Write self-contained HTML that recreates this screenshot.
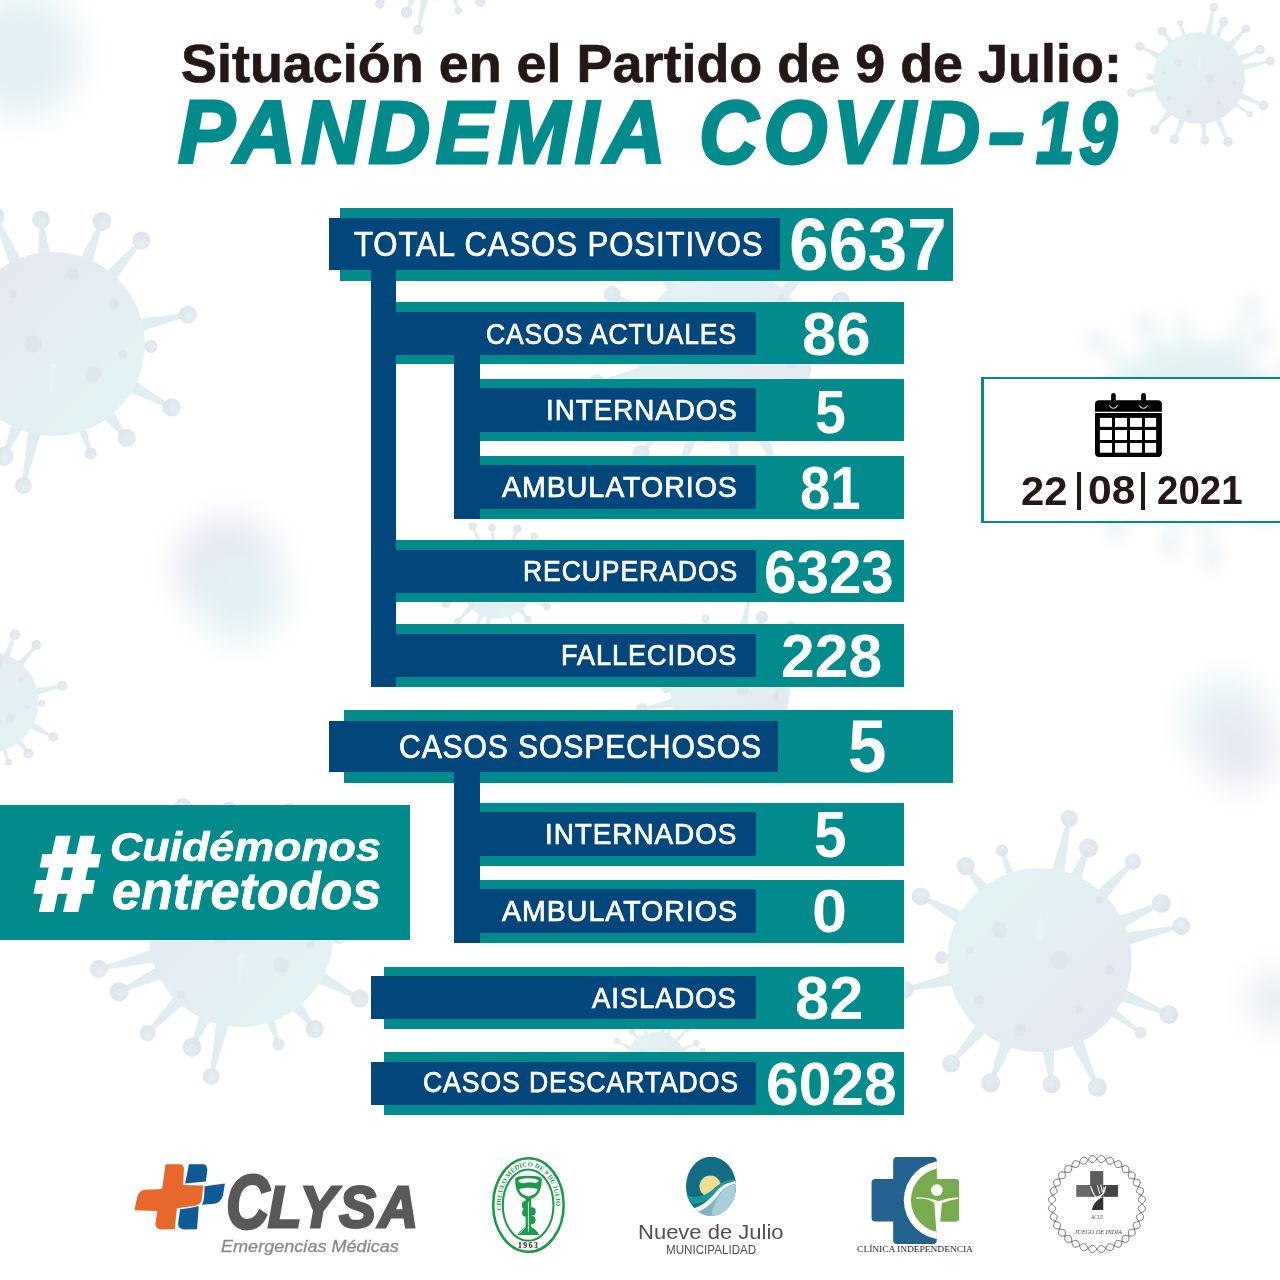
<!DOCTYPE html>
<html><head><meta charset="utf-8">
<style>
*{margin:0;padding:0;box-sizing:border-box}
html,body{width:1280px;height:1280px;overflow:hidden;background:#fff}
body{position:relative;font-family:"Liberation Sans",sans-serif}
.a{position:absolute}
.t{position:absolute;background:#028b8d}
.n{position:absolute;background:#01477b}
.lb{position:absolute;color:#fff;font-size:28px;white-space:nowrap;line-height:1;-webkit-text-stroke:0.4px #fff}
.num{position:absolute;color:#fff;font-weight:bold;white-space:nowrap;line-height:1;text-align:center}
#bg{position:absolute;left:0;top:0}
.tx{position:absolute;white-space:nowrap;line-height:1;transform-origin:0 0;font-family:"Liberation Sans",sans-serif}
</style></head><body>
<svg id="bg" width="1280" height="1280" viewBox="0 0 1280 1280">
<defs>
<linearGradient id="vb" x1="0" y1="0" x2="1" y2="1">
<stop offset="0.15" stop-color="#e2f2f3"/><stop offset="0.9" stop-color="#e5e8ef"/>
</linearGradient>
<radialGradient id="vball" cx="0.45" cy="0.4" r="0.6">
<stop offset="0" stop-color="#e3eff2"/><stop offset="1" stop-color="#dfe4eb"/>
</radialGradient>
<filter id="bl" x="-1" y="-1" width="3" height="3"><feGaussianBlur stdDeviation="16"/></filter>
<filter id="bl2" x="-1" y="-1" width="3" height="3"><feGaussianBlur stdDeviation="9"/></filter>
<g id="v">
<path fill="#e0eef1" d="M23.4 -74.8 L31.3 -141.1 L28.1 -141.7 L8.7 -77.9Z M38.1 -68.5 L50.5 -111.7 L47.5 -112.9 L24.3 -74.5Z M59.2 -51.3 L94.8 -97.2 L92.4 -99.4 L48.4 -61.7Z M73.9 -26.1 L122.6 -55.3 L121.2 -58.3 L67.5 -39.7Z M77.6 -10.9 L142.4 -32.4 L141.6 -35.6 L74.1 -25.5Z M68.9 37.3 L128.7 56.1 L129.9 53.1 L74.8 23.4Z M60.5 49.5 L100.1 73.7 L101.9 71.1 L66.3 41.4Z M25.5 74.1 L56.5 128.0 L59.5 126.6 L39.2 67.9Z M0.0 78.4 L10.4 124.5 L13.6 124.1 L15.0 76.9Z M-35.8 69.7 L-50.4 122.2 L-47.4 123.4 L-21.9 75.2Z M-56.3 54.5 L-89.6 102.6 L-87.2 104.6 L-44.9 64.2Z M-77.8 9.3 L-135.3 27.8 L-134.7 31.0 L-74.6 23.9Z M-77.9 -6.9 L-97.9 -4.0 L-97.9 -0.8 L-78.1 3.1Z M-65.2 -43.4 L-117.9 -65.0 L-119.5 -62.2 L-72.3 -30.2Z M-42.2 -66.0 L-72.3 -94.9 L-74.9 -92.9 L-54.0 -56.8Z M-20.6 -75.4 L-36.1 -110.1 L-39.1 -109.1 L-30.0 -72.2Z"/>
<g fill="url(#vball)"><circle cx="29.7" cy="-141.4" r="8.5"/><circle cx="49" cy="-112.3" r="9.5"/><circle cx="93.6" cy="-98.3" r="8"/><circle cx="121.9" cy="-56.8" r="9.5"/><circle cx="142" cy="-34" r="9"/><circle cx="129.3" cy="54.6" r="9.5"/><circle cx="101" cy="72.4" r="6"/><circle cx="58" cy="127.3" r="9.5"/><circle cx="12" cy="124.3" r="9"/><circle cx="-48.9" cy="122.8" r="9.5"/><circle cx="-88.4" cy="103.6" r="9"/><circle cx="-135" cy="29.4" r="9"/><circle cx="-97.9" cy="-2.4" r="6.5"/><circle cx="-118.7" cy="-63.6" r="9"/><circle cx="-73.6" cy="-93.9" r="9"/><circle cx="-37.6" cy="-109.6" r="6"/></g>
<circle r="92" fill="url(#vb)"/>
<g fill="#dce5ec" opacity="0.7">
<circle cx="-40" cy="-30" r="8"/><circle cx="20" cy="0" r="9"/><circle cx="60" cy="-60" r="4"/><circle cx="-60" cy="40" r="5"/><circle cx="40" cy="50" r="4"/><circle cx="-20" cy="70" r="6"/><circle cx="70" cy="10" r="5"/><circle cx="-70" cy="-10" r="4"/>
</g>
<path d="M2 -55 L4 -20 L-4 -20 Z" fill="#e6f3f5" opacity="0.8"/>
</g>
</defs>
<g filter="url(#bl)">
<circle cx="20" cy="55" r="62" fill="#e3eff3"/>
<circle cx="228" cy="570" r="52" fill="#e3e5ef"/>
<circle cx="240" cy="595" r="46" fill="#e2f0f3"/>
<circle cx="1226" cy="722" r="44" fill="#e5f2f4"/>
<circle cx="1240" cy="748" r="38" fill="#e6e8f1"/>
<circle cx="1275" cy="1000" r="28" fill="#e6ebf0"/>
</g>
<g filter="url(#bl2)"><use href="#v" transform="translate(1190,428) scale(0.95) rotate(15)"/></g>
<use href="#v" transform="translate(436,-55) scale(0.6) rotate(180)"/>
<use href="#v" transform="translate(1199,78) scale(0.5)"/>
<use href="#v" transform="translate(53,344) rotate(180)"/>
<use href="#v" transform="translate(-12,702) scale(0.55) rotate(180)"/>
<use href="#v" transform="translate(725,355) scale(0.95)"/>
<use href="#v" transform="translate(497,580) scale(0.42) rotate(180)"/>
<use href="#v" transform="translate(730,690) scale(0.65)"/>
<use href="#v" transform="translate(656,1062) scale(0.33)"/>
<use href="#v" transform="translate(241,935) rotate(180)"/>
<use href="#v" transform="translate(1039.5,960)"/>
</svg>

<!-- BARS -->
<div class="t" style="left:340px;top:208px;width:613px;height:73px"></div>
<div class="n" style="left:329px;top:218px;width:451px;height:52px"></div>
<div class="n" style="left:371px;top:270px;width:25px;height:417px"></div>

<div class="t" style="left:396px;top:302px;width:508px;height:62px"></div>
<div class="n" style="left:396px;top:312px;width:360px;height:43px"></div>
<div class="n" style="left:454px;top:355px;width:26px;height:164px"></div>

<div class="t" style="left:480px;top:379px;width:424px;height:62px"></div>
<div class="n" style="left:480px;top:388px;width:276px;height:44px"></div>

<div class="t" style="left:480px;top:456px;width:424px;height:63px"></div>
<div class="n" style="left:480px;top:465px;width:276px;height:44px"></div>

<div class="t" style="left:396px;top:540px;width:508px;height:62px"></div>
<div class="n" style="left:396px;top:550px;width:360px;height:43px"></div>

<div class="t" style="left:396px;top:624px;width:508px;height:63px"></div>
<div class="n" style="left:396px;top:634px;width:360px;height:43px"></div>

<div class="t" style="left:344px;top:710px;width:609px;height:73px"></div>
<div class="n" style="left:329px;top:721px;width:449px;height:51px"></div>
<div class="n" style="left:454px;top:771px;width:26px;height:172px"></div>

<div class="t" style="left:480px;top:803px;width:424px;height:63px"></div>
<div class="n" style="left:480px;top:812px;width:276px;height:44px"></div>

<div class="t" style="left:480px;top:880px;width:424px;height:63px"></div>
<div class="n" style="left:480px;top:889px;width:276px;height:44px"></div>

<div class="t" style="left:384px;top:967px;width:520px;height:62px"></div>
<div class="n" style="left:371px;top:976px;width:385px;height:43px"></div>

<div class="t" style="left:384px;top:1052px;width:520px;height:63px"></div>
<div class="n" style="left:371px;top:1062px;width:385px;height:43px"></div>

<div class="a" style="left:0;top:805px;width:410px;height:135px;background:#028b8d"></div>
<svg class="a" style="left:0;top:0" width="1280" height="1280" viewBox="0 0 1280 1280">
<g fill="#fff">
<polygon points="55.9,835.7 70.7,835.7 53.8,912 38.7,912"/>
<polygon points="80.2,835.7 95,835.7 78.4,912 63,912"/>
<polygon points="42.2,854 101,854 98.5,867.4 39.8,867.4"/>
<polygon points="36.25,880 95,880 92.5,893.75 33.4,893.75"/>
</g>
<path fill="#028b8d" d="M992 132.3 L1022 132.3 Q1024.2 132.3 1023.8 134.5 L1022.2 143 Q1021.8 145.3 1019.5 145.3 L991 145.3 Q988.8 145.3 989.2 143 L990 134.5 Q990.4 132.3 992 132.3 Z"/>
</svg>
<div class="a" style="left:981px;top:377px;width:310px;height:146px;border:2.5px solid #028b8d;border-left-width:3px;background:#fff"></div>
<svg class="a" style="left:1090px;top:388px" width="80" height="74" viewBox="0 0 1280 1184">
<path fill="#000" d="M80 260 Q80 195 150 195 L1085 195 Q1150 195 1150 260 L1150 380 L80 380 Z"/>
<path fill="#000" d="M80 400 L1150 400 L1150 1030 Q1150 1105 1075 1105 L160 1105 Q80 1105 80 1030 Z"/>
<g fill="#fff">
<rect x="158" y="478" width="194" height="144"/><rect x="400" y="478" width="192" height="144"/><rect x="640" y="478" width="192" height="144"/><rect x="880" y="478" width="178" height="144"/>
<rect x="158" y="672" width="194" height="160"/><rect x="400" y="672" width="192" height="160"/><rect x="640" y="672" width="192" height="160"/><rect x="880" y="672" width="178" height="160"/>
<rect x="158" y="880" width="194" height="155"/><rect x="400" y="880" width="192" height="155"/><rect x="640" y="880" width="192" height="155"/><rect x="880" y="880" width="178" height="155"/>
</g>
<g fill="none" stroke="#fff" stroke-width="16">
<path d="M312 275 Q320 325 375 325 Q430 325 438 275"/>
<path d="M792 275 Q800 325 855 325 Q910 325 918 275"/>
</g>
<g fill="#000">
<rect x="338" y="78" width="74" height="222" rx="37"/>
<rect x="818" y="78" width="77" height="222" rx="38"/>
</g>
</svg>
<div class="a" style="left:1077.2px;top:472px;width:3.6px;height:38px;background:#231815"></div>
<div class="a" style="left:1141px;top:472px;width:3.8px;height:38px;background:#231815"></div>
<svg class="a" style="left:130px;top:1158px" width="100" height="77" viewBox="0 0 1280 986">
<path fill="#e8682b" d="M455 80 L640 80 Q690 80 690 140 L680 345 L940 352 L915 555 Q880 610 820 615 L600 645 L572 912 L390 915 Q325 905 325 840 L350 680 L55 670 L95 490 Q120 410 200 405 L410 398 Z"/>
<path fill="#0d5a95" d="M755 80 L940 80 Q990 85 990 160 L970 302 L705 325 Z"/>
<path fill="#0d5a95" d="M955 362 L1215 325 L1190 480 Q1160 575 1080 585 L918 600 Q945 560 950 480 Z"/>
<path fill="#0d5a95" d="M880 615 L858 912 L690 915 Q615 905 615 840 L642 655 Q760 650 880 615 Z"/>
</svg>
<svg class="a" style="left:485px;top:1150px" width="90" height="110" viewBox="0 0 1047 1280">
<defs><path id="arcp" d="M186 703 A322 452 0 1 1 824 703"/></defs>
<ellipse cx="505" cy="640" rx="410" ry="545" fill="none" stroke="#1b9a4b" stroke-width="30"/>
<ellipse cx="502" cy="642" rx="295" ry="415" fill="none" stroke="#1b9a4b" stroke-width="24"/>
<text font-family="Liberation Serif" font-weight="bold" font-size="74" fill="#1b9a4b" textLength="1300" lengthAdjust="spacingAndGlyphs"><textPath href="#arcp" textLength="1300" lengthAdjust="spacingAndGlyphs">CIRCULO MEDICO DE 9 DE JULIO</textPath></text>
<text x="505" y="1140" font-family="Liberation Serif" font-weight="bold" font-size="95" fill="#222" text-anchor="middle" letter-spacing="14">1963</text>
<g fill="#1b9a4b">
<path d="M350 340 Q350 300 505 300 Q660 300 660 340 Q660 525 545 565 L465 565 Q350 525 350 340 Z"/>
<rect x="472" y="555" width="66" height="420"/>
<path d="M378 990 Q420 905 505 880 Q590 905 632 990 Z"/>
<ellipse cx="468" cy="640" rx="40" ry="48"/><ellipse cx="545" cy="715" rx="45" ry="50"/><ellipse cx="468" cy="730" rx="36" ry="45"/><ellipse cx="548" cy="815" rx="40" ry="46"/>
</g>
<path fill="#fff" d="M398 455 Q505 425 612 455 Q598 525 505 540 Q412 525 398 455 Z"/>
<ellipse cx="505" cy="360" rx="118" ry="32" fill="#fff"/>
<path d="M430 395 Q505 360 590 385 Q540 420 470 410 Z" fill="#1b9a4b"/>
<path d="M505 600 L505 950" stroke="#fff" stroke-width="9"/>
<path d="M400 975 L470 900" stroke="#fff" stroke-width="7"/>
</svg>
<svg class="a" style="left:630px;top:1150px" width="160" height="110" viewBox="0 0 1280 880">
<defs><clipPath id="ovc"><ellipse cx="648" cy="290" rx="200" ry="236"/></clipPath></defs>
<g clip-path="url(#ovc)">
<rect x="400" y="40" width="500" height="520" fill="#126c86"/>
<circle cx="642" cy="290" r="86" fill="#f2dc8e"/>
<path fill="#16999e" d="M440 355 C520 395 600 375 680 300 C740 250 800 232 860 232 L860 290 C790 290 730 310 680 360 C600 430 520 440 440 420 Z"/>
<path fill="#ffffff" d="M500 470 C600 440 650 380 700 322 C745 272 800 252 860 248 L860 268 C805 272 755 300 718 345 C665 420 610 470 545 495 Z"/>
<path fill="#a6d0dc" d="M545 495 C610 470 665 420 718 345 C755 300 805 272 860 268 L860 600 L480 600 Z"/>
<path fill="#7fb5c5" d="M545 495 C610 470 665 420 718 345 L740 320 C690 400 660 460 650 540 L520 540 Z"/>
</g>
</svg>
<svg class="a" style="left:850px;top:1150px" width="130" height="110" viewBox="0 0 1280 1083">
<defs><clipPath id="crc"><path d="M465 70 L815 70 Q855 70 855 110 L855 285 L1035 285 Q1075 285 1075 325 L1075 665 Q1075 705 1035 705 L855 705 L855 885 Q855 925 815 925 L465 925 Q425 925 425 885 L425 705 L250 705 Q210 705 210 665 L210 325 Q210 285 250 285 L425 285 L425 110 Q425 70 465 70 Z"/></clipPath></defs>
<g clip-path="url(#crc)">
<rect x="200" y="60" width="900" height="880" fill="#23628f"/>
<circle cx="917" cy="495" r="387" fill="#fff"/>
<circle cx="917" cy="495" r="317" fill="#76ab4e"/>
</g>
<circle cx="855" cy="395" r="58" fill="#fff"/>
<path fill="#fff" d="M650 480 Q760 470 830 520 L850 800 L880 800 L905 525 Q980 490 1065 480 L1060 465 Q960 470 870 505 Q780 465 655 465 Z"/>
<text x="640" y="1005" font-family="Liberation Serif" font-size="78" fill="#222" text-anchor="middle" textLength="1140" lengthAdjust="spacingAndGlyphs">CLÍNICA  INDEPENDENCIA</text>
</svg>
<svg class="a" style="left:1045px;top:1150px" width="105" height="108" viewBox="0 0 1244 1280">
<g fill="none" stroke="#3a3a3a" stroke-width="9"><path d="M1150.0,640.0 L1154.7,643.8 L1159.3,647.6 L1163.7,651.5 L1167.9,655.4 L1171.9,659.4 L1175.6,663.5 L1178.9,667.6 L1181.8,671.7 L1184.3,675.8 L1186.4,680.0 L1187.9,684.1 L1188.9,688.2 L1189.3,692.3 L1189.2,696.3 L1188.6,700.3 L1187.4,704.2 L1185.7,708.1 L1183.5,711.8 L1180.8,715.5 L1177.6,719.1 L1173.9,722.5 L1169.9,725.9 L1165.6,729.2 L1160.9,732.3 L1156.0,735.4 L1150.9,738.4 L1145.7,741.2 L1140.4,744.0 L1135.1,746.8 L1129.8,749.4 L1124.6,752.0 L1119.5,754.6 L1114.7,757.2 L1110.1,759.8 L1105.8,762.4 L1101.8,765.0 L1098.3,767.7 L1095.1,770.4 L1092.4,773.3 L1090.1,776.2 L1088.3,779.3 L1087.0,782.5 L1086.1,785.8 L1085.7,789.3 L1085.8,793.0 L1086.4,796.8 L1087.3,800.8 L1088.6,804.9 L1090.3,809.3 L1092.4,813.7 L1094.7,818.4 L1097.2,823.2 L1099.9,828.1 L1102.7,833.1 L1105.6,838.2 L1108.5,843.4 L1111.4,848.7 L1114.2,854.0 L1116.9,859.3 L1119.4,864.6 L1121.6,869.8 L1123.5,875.0 L1125.1,880.0 L1126.3,885.0 L1127.2,889.8 L1127.5,894.4 L1127.5,898.9 L1127.0,903.1 L1125.9,907.1 L1124.4,910.9 L1122.4,914.4 L1120.0,917.6 L1117.0,920.6 L1113.6,923.3 L1109.8,925.7 L1105.6,927.8 L1101.0,929.7 L1096.1,931.4 L1090.9,932.8 L1085.4,934.0 L1079.8,935.0 L1074.0,935.8 L1068.0,936.5 L1062.1,937.0 L1056.1,937.5 L1050.2,938.0 L1044.3,938.4 L1038.7,938.9 L1033.1,939.4 L1027.9,940.0 L1022.8,940.7 L1018.1,941.5 L1013.7,942.6 L1009.6,943.9 L1005.9,945.4 L1002.6,947.2 L999.6,949.3 L997.1,951.6 L994.9,954.3 L993.1,957.3 L991.7,960.6 L990.7,964.3 L990.0,968.2 L989.5,972.5 L989.4,977.1 L989.5,981.9 L989.8,987.1 L990.2,992.4 L990.8,997.9 L991.5,1003.6 L992.2,1009.4 L993.0,1015.3 L993.6,1021.3 L994.2,1027.2 L994.7,1033.2 L995.0,1039.0 L995.1,1044.7 L995.0,1050.3 L994.6,1055.7 L993.9,1060.8 L992.9,1065.6 L991.5,1070.1 L989.9,1074.3 L987.9,1078.1 L985.5,1081.5 L982.7,1084.5 L979.6,1087.1 L976.2,1089.3 L972.4,1091.0 L968.4,1092.3 L964.0,1093.1 L959.3,1093.6 L954.4,1093.7 L949.3,1093.4 L944.0,1092.8 L938.5,1091.9 L932.9,1090.7 L927.3,1089.3 L921.5,1087.7 L915.8,1086.0 L910.1,1084.1 L904.4,1082.3 L898.8,1080.4 L893.4,1078.7 L888.1,1077.0 L882.9,1075.5 L877.9,1074.1 L873.2,1073.1 L868.6,1072.3 L864.3,1071.8 L860.2,1071.7 L856.4,1072.0 L852.9,1072.7 L849.5,1073.8 L846.5,1075.3 L843.6,1077.3 L841.0,1079.7 L838.6,1082.6 L836.3,1085.9 L834.3,1089.6 L832.3,1093.6 L830.6,1098.1 L828.9,1102.8 L827.2,1107.9 L825.7,1113.1 L824.1,1118.6 L822.5,1124.2 L821.0,1130.0 L819.3,1135.7 L817.6,1141.5 L815.8,1147.1 L813.9,1152.7 L811.8,1158.1 L809.6,1163.2 L807.2,1168.1 L804.7,1172.7 L801.9,1176.8 L799.0,1180.6 L795.9,1183.9 L792.7,1186.8 L789.2,1189.2 L785.6,1191.0 L781.8,1192.4 L777.8,1193.2 L773.7,1193.4 L769.5,1193.2 L765.1,1192.5 L760.6,1191.2 L756.1,1189.5 L751.5,1187.4 L746.8,1184.9 L742.1,1182.0 L737.4,1178.9 L732.7,1175.5 L728.0,1171.9 L723.4,1168.1 L718.8,1164.2 L714.3,1160.4 L709.8,1156.5 L705.4,1152.7 L701.1,1149.1 L696.9,1145.7 L692.8,1142.5 L688.8,1139.6 L684.9,1137.0 L681.0,1134.8 L677.3,1133.1 L673.6,1131.8 L670.1,1130.9 L666.6,1130.5 L663.1,1130.6 L659.7,1131.3 L656.3,1132.4 L653.0,1134.0 L649.7,1136.0 L646.4,1138.6 L643.0,1141.5 L639.7,1144.8 L636.3,1148.5 L632.9,1152.4 L629.4,1156.7 L625.9,1161.1 L622.3,1165.6 L618.7,1170.3 L615.0,1175.0 L611.2,1179.7 L607.4,1184.3 L603.5,1188.7 L599.6,1192.9 L595.6,1196.9 L591.5,1200.6 L587.4,1203.9 L583.3,1206.8 L579.2,1209.3 L575.0,1211.4 L570.9,1212.9 L566.8,1213.9 L562.7,1214.3 L558.7,1214.2 L554.7,1213.6 L550.8,1212.4 L546.9,1210.7 L543.2,1208.5 L539.5,1205.8 L535.9,1202.6 L532.5,1198.9 L529.1,1194.9 L525.8,1190.6 L522.7,1185.9 L519.6,1181.0 L516.6,1175.9 L513.8,1170.7 L511.0,1165.4 L508.2,1160.1 L505.6,1154.8 L503.0,1149.6 L500.4,1144.5 L497.8,1139.7 L495.2,1135.1 L492.6,1130.8 L490.0,1126.8 L487.3,1123.3 L484.6,1120.1 L481.7,1117.4 L478.8,1115.1 L475.7,1113.3 L472.5,1112.0 L469.2,1111.1 L465.7,1110.7 L462.0,1110.8 L458.2,1111.4 L454.2,1112.3 L450.1,1113.6 L445.7,1115.3 L441.3,1117.4 L436.6,1119.7 L431.8,1122.2 L426.9,1124.9 L421.9,1127.7 L416.8,1130.6 L411.6,1133.5 L406.3,1136.4 L401.0,1139.2 L395.7,1141.9 L390.4,1144.4 L385.2,1146.6 L380.0,1148.5 L375.0,1150.1 L370.0,1151.3 L365.2,1152.2 L360.6,1152.5 L356.1,1152.5 L351.9,1152.0 L347.9,1150.9 L344.1,1149.4 L340.6,1147.4 L337.4,1145.0 L334.4,1142.0 L331.7,1138.6 L329.3,1134.8 L327.2,1130.6 L325.3,1126.0 L323.6,1121.1 L322.2,1115.9 L321.0,1110.4 L320.0,1104.8 L319.2,1099.0 L318.5,1093.0 L318.0,1087.1 L317.5,1081.1 L317.0,1075.2 L316.6,1069.3 L316.1,1063.7 L315.6,1058.1 L315.0,1052.9 L314.3,1047.8 L313.5,1043.1 L312.4,1038.7 L311.1,1034.6 L309.6,1030.9 L307.8,1027.6 L305.7,1024.6 L303.4,1022.1 L300.7,1019.9 L297.7,1018.1 L294.4,1016.7 L290.7,1015.7 L286.8,1015.0 L282.5,1014.5 L277.9,1014.4 L273.1,1014.5 L267.9,1014.8 L262.6,1015.2 L257.1,1015.8 L251.4,1016.5 L245.6,1017.2 L239.7,1018.0 L233.7,1018.6 L227.8,1019.2 L221.8,1019.7 L216.0,1020.0 L210.3,1020.1 L204.7,1020.0 L199.3,1019.6 L194.2,1018.9 L189.4,1017.9 L184.9,1016.5 L180.7,1014.9 L176.9,1012.9 L173.5,1010.5 L170.5,1007.7 L167.9,1004.6 L165.7,1001.2 L164.0,997.4 L162.7,993.4 L161.9,989.0 L161.4,984.3 L161.3,979.4 L161.6,974.3 L162.2,969.0 L163.1,963.5 L164.3,957.9 L165.7,952.3 L167.3,946.5 L169.0,940.8 L170.9,935.1 L172.7,929.4 L174.6,923.8 L176.3,918.4 L178.0,913.1 L179.5,907.9 L180.9,902.9 L181.9,898.2 L182.7,893.6 L183.2,889.3 L183.3,885.2 L183.0,881.4 L182.3,877.9 L181.2,874.5 L179.7,871.5 L177.7,868.6 L175.3,866.0 L172.4,863.6 L169.1,861.3 L165.4,859.3 L161.4,857.3 L156.9,855.6 L152.2,853.9 L147.1,852.2 L141.9,850.7 L136.4,849.1 L130.8,847.5 L125.0,846.0 L119.3,844.3 L113.5,842.6 L107.9,840.8 L102.3,838.9 L96.9,836.8 L91.8,834.6 L86.9,832.2 L82.3,829.7 L78.2,826.9 L74.4,824.0 L71.1,820.9 L68.2,817.7 L65.8,814.2 L64.0,810.6 L62.6,806.8 L61.8,802.8 L61.6,798.7 L61.8,794.5 L62.5,790.1 L63.8,785.6 L65.5,781.1 L67.6,776.5 L70.1,771.8 L73.0,767.1 L76.1,762.4 L79.5,757.7 L83.1,753.0 L86.9,748.4 L90.8,743.8 L94.6,739.3 L98.5,734.8 L102.3,730.4 L105.9,726.1 L109.3,721.9 L112.5,717.8 L115.4,713.8 L118.0,709.9 L120.2,706.0 L121.9,702.3 L123.2,698.6 L124.1,695.1 L124.5,691.6 L124.4,688.1 L123.7,684.7 L122.6,681.3 L121.0,678.0 L119.0,674.7 L116.4,671.4 L113.5,668.0 L110.2,664.7 L106.5,661.3 L102.6,657.9 L98.3,654.4 L93.9,650.9 L89.4,647.3 L84.7,643.7 L80.0,640.0 L75.3,636.2 L70.7,632.4 L66.3,628.5 L62.1,624.6 L58.1,620.6 L54.4,616.5 L51.1,612.4 L48.2,608.3 L45.7,604.2 L43.6,600.0 L42.1,595.9 L41.1,591.8 L40.7,587.7 L40.8,583.7 L41.4,579.7 L42.6,575.8 L44.3,571.9 L46.5,568.2 L49.2,564.5 L52.4,560.9 L56.1,557.5 L60.1,554.1 L64.4,550.8 L69.1,547.7 L74.0,544.6 L79.1,541.6 L84.3,538.8 L89.6,536.0 L94.9,533.2 L100.2,530.6 L105.4,528.0 L110.5,525.4 L115.3,522.8 L119.9,520.2 L124.2,517.6 L128.2,515.0 L131.7,512.3 L134.9,509.6 L137.6,506.7 L139.9,503.8 L141.7,500.7 L143.0,497.5 L143.9,494.2 L144.3,490.7 L144.2,487.0 L143.6,483.2 L142.7,479.2 L141.4,475.1 L139.7,470.7 L137.6,466.3 L135.3,461.6 L132.8,456.8 L130.1,451.9 L127.3,446.9 L124.4,441.8 L121.5,436.6 L118.6,431.3 L115.8,426.0 L113.1,420.7 L110.6,415.4 L108.4,410.2 L106.5,405.0 L104.9,400.0 L103.7,395.0 L102.8,390.2 L102.5,385.6 L102.5,381.1 L103.0,376.9 L104.1,372.9 L105.6,369.1 L107.6,365.6 L110.0,362.4 L113.0,359.4 L116.4,356.7 L120.2,354.3 L124.4,352.2 L129.0,350.3 L133.9,348.6 L139.1,347.2 L144.6,346.0 L150.2,345.0 L156.0,344.2 L162.0,343.5 L167.9,343.0 L173.9,342.5 L179.8,342.0 L185.7,341.6 L191.3,341.1 L196.9,340.6 L202.1,340.0 L207.2,339.3 L211.9,338.5 L216.3,337.4 L220.4,336.1 L224.1,334.6 L227.4,332.8 L230.4,330.7 L232.9,328.4 L235.1,325.7 L236.9,322.7 L238.3,319.4 L239.3,315.7 L240.0,311.8 L240.5,307.5 L240.6,302.9 L240.5,298.1 L240.2,292.9 L239.8,287.6 L239.2,282.1 L238.5,276.4 L237.8,270.6 L237.0,264.7 L236.4,258.7 L235.8,252.8 L235.3,246.8 L235.0,241.0 L234.9,235.3 L235.0,229.7 L235.4,224.3 L236.1,219.2 L237.1,214.4 L238.5,209.9 L240.1,205.7 L242.1,201.9 L244.5,198.5 L247.3,195.5 L250.4,192.9 L253.8,190.7 L257.6,189.0 L261.6,187.7 L266.0,186.9 L270.7,186.4 L275.6,186.3 L280.7,186.6 L286.0,187.2 L291.5,188.1 L297.1,189.3 L302.7,190.7 L308.5,192.3 L314.2,194.0 L319.9,195.9 L325.6,197.7 L331.2,199.6 L336.6,201.3 L341.9,203.0 L347.1,204.5 L352.1,205.9 L356.8,206.9 L361.4,207.7 L365.7,208.2 L369.8,208.3 L373.6,208.0 L377.1,207.3 L380.5,206.2 L383.5,204.7 L386.4,202.7 L389.0,200.3 L391.4,197.4 L393.7,194.1 L395.7,190.4 L397.7,186.4 L399.4,181.9 L401.1,177.2 L402.8,172.1 L404.3,166.9 L405.9,161.4 L407.5,155.8 L409.0,150.0 L410.7,144.3 L412.4,138.5 L414.2,132.9 L416.1,127.3 L418.2,121.9 L420.4,116.8 L422.8,111.9 L425.3,107.3 L428.1,103.2 L431.0,99.4 L434.1,96.1 L437.3,93.2 L440.8,90.8 L444.4,89.0 L448.2,87.6 L452.2,86.8 L456.3,86.6 L460.5,86.8 L464.9,87.5 L469.4,88.8 L473.9,90.5 L478.5,92.6 L483.2,95.1 L487.9,98.0 L492.6,101.1 L497.3,104.5 L502.0,108.1 L506.6,111.9 L511.2,115.8 L515.7,119.6 L520.2,123.5 L524.6,127.3 L528.9,130.9 L533.1,134.3 L537.2,137.5 L541.2,140.4 L545.1,143.0 L549.0,145.2 L552.7,146.9 L556.4,148.2 L559.9,149.1 L563.4,149.5 L566.9,149.4 L570.3,148.7 L573.7,147.6 L577.0,146.0 L580.3,144.0 L583.6,141.4 L587.0,138.5 L590.3,135.2 L593.7,131.5 L597.1,127.6 L600.6,123.3 L604.1,118.9 L607.7,114.4 L611.3,109.7 L615.0,105.0 L618.8,100.3 L622.6,95.7 L626.5,91.3 L630.4,87.1 L634.4,83.1 L638.5,79.4 L642.6,76.1 L646.7,73.2 L650.8,70.7 L655.0,68.6 L659.1,67.1 L663.2,66.1 L667.3,65.7 L671.3,65.8 L675.3,66.4 L679.2,67.6 L683.1,69.3 L686.8,71.5 L690.5,74.2 L694.1,77.4 L697.5,81.1 L700.9,85.1 L704.2,89.4 L707.3,94.1 L710.4,99.0 L713.4,104.1 L716.2,109.3 L719.0,114.6 L721.8,119.9 L724.4,125.2 L727.0,130.4 L729.6,135.5 L732.2,140.3 L734.8,144.9 L737.4,149.2 L740.0,153.2 L742.7,156.7 L745.4,159.9 L748.3,162.6 L751.2,164.9 L754.3,166.7 L757.5,168.0 L760.8,168.9 L764.3,169.3 L768.0,169.2 L771.8,168.6 L775.8,167.7 L779.9,166.4 L784.3,164.7 L788.7,162.6 L793.4,160.3 L798.2,157.8 L803.1,155.1 L808.1,152.3 L813.2,149.4 L818.4,146.5 L823.7,143.6 L829.0,140.8 L834.3,138.1 L839.6,135.6 L844.8,133.4 L850.0,131.5 L855.0,129.9 L860.0,128.7 L864.8,127.8 L869.4,127.5 L873.9,127.5 L878.1,128.0 L882.1,129.1 L885.9,130.6 L889.4,132.6 L892.6,135.0 L895.6,138.0 L898.3,141.4 L900.7,145.2 L902.8,149.4 L904.7,154.0 L906.4,158.9 L907.8,164.1 L909.0,169.6 L910.0,175.2 L910.8,181.0 L911.5,187.0 L912.0,192.9 L912.5,198.9 L913.0,204.8 L913.4,210.7 L913.9,216.3 L914.4,221.9 L915.0,227.1 L915.7,232.2 L916.5,236.9 L917.6,241.3 L918.9,245.4 L920.4,249.1 L922.2,252.4 L924.3,255.4 L926.6,257.9 L929.3,260.1 L932.3,261.9 L935.6,263.3 L939.3,264.3 L943.2,265.0 L947.5,265.5 L952.1,265.6 L956.9,265.5 L962.1,265.2 L967.4,264.8 L972.9,264.2 L978.6,263.5 L984.4,262.8 L990.3,262.0 L996.3,261.4 L1002.2,260.8 L1008.2,260.3 L1014.0,260.0 L1019.7,259.9 L1025.3,260.0 L1030.7,260.4 L1035.8,261.1 L1040.6,262.1 L1045.1,263.5 L1049.3,265.1 L1053.1,267.1 L1056.5,269.5 L1059.5,272.3 L1062.1,275.4 L1064.3,278.8 L1066.0,282.6 L1067.3,286.6 L1068.1,291.0 L1068.6,295.7 L1068.7,300.6 L1068.4,305.7 L1067.8,311.0 L1066.9,316.5 L1065.7,322.1 L1064.3,327.7 L1062.7,333.5 L1061.0,339.2 L1059.1,344.9 L1057.3,350.6 L1055.4,356.2 L1053.7,361.6 L1052.0,366.9 L1050.5,372.1 L1049.1,377.1 L1048.1,381.8 L1047.3,386.4 L1046.8,390.7 L1046.7,394.8 L1047.0,398.6 L1047.7,402.1 L1048.8,405.5 L1050.3,408.5 L1052.3,411.4 L1054.7,414.0 L1057.6,416.4 L1060.9,418.7 L1064.6,420.7 L1068.6,422.7 L1073.1,424.4 L1077.8,426.1 L1082.9,427.8 L1088.1,429.3 L1093.6,430.9 L1099.2,432.5 L1105.0,434.0 L1110.7,435.7 L1116.5,437.4 L1122.1,439.2 L1127.7,441.1 L1133.1,443.2 L1138.2,445.4 L1143.1,447.8 L1147.7,450.3 L1151.8,453.1 L1155.6,456.0 L1158.9,459.1 L1161.8,462.3 L1164.2,465.8 L1166.0,469.4 L1167.4,473.2 L1168.2,477.2 L1168.4,481.3 L1168.2,485.5 L1167.5,489.9 L1166.2,494.4 L1164.5,498.9 L1162.4,503.5 L1159.9,508.2 L1157.0,512.9 L1153.9,517.6 L1150.5,522.3 L1146.9,527.0 L1143.1,531.6 L1139.2,536.2 L1135.4,540.7 L1131.5,545.2 L1127.7,549.6 L1124.1,553.9 L1120.7,558.1 L1117.5,562.2 L1114.6,566.2 L1112.0,570.1 L1109.8,574.0 L1108.1,577.7 L1106.8,581.4 L1105.9,584.9 L1105.5,588.4 L1105.6,591.9 L1106.3,595.3 L1107.4,598.7 L1109.0,602.0 L1111.0,605.3 L1113.6,608.6 L1116.5,612.0 L1119.8,615.3 L1123.5,618.7 L1127.4,622.1 L1131.7,625.6 L1136.1,629.1 L1140.6,632.7 L1145.3,636.3 L1150.0,640.0Z"/><path d="M1150.0,640.0 L1145.3,643.7 L1140.6,647.3 L1136.1,650.9 L1131.7,654.4 L1127.4,657.9 L1123.5,661.3 L1119.8,664.7 L1116.5,668.0 L1113.6,671.4 L1111.0,674.7 L1109.0,678.0 L1107.4,681.3 L1106.3,684.7 L1105.6,688.1 L1105.5,691.6 L1105.9,695.1 L1106.8,698.6 L1108.1,702.3 L1109.8,706.0 L1112.0,709.9 L1114.6,713.8 L1117.5,717.8 L1120.7,721.9 L1124.1,726.1 L1127.7,730.4 L1131.5,734.8 L1135.4,739.3 L1139.2,743.8 L1143.1,748.4 L1146.9,753.0 L1150.5,757.7 L1153.9,762.4 L1157.0,767.1 L1159.9,771.8 L1162.4,776.5 L1164.5,781.1 L1166.2,785.6 L1167.5,790.1 L1168.2,794.5 L1168.4,798.7 L1168.2,802.8 L1167.4,806.8 L1166.0,810.6 L1164.2,814.2 L1161.8,817.7 L1158.9,820.9 L1155.6,824.0 L1151.8,826.9 L1147.7,829.7 L1143.1,832.2 L1138.2,834.6 L1133.1,836.8 L1127.7,838.9 L1122.1,840.8 L1116.5,842.6 L1110.7,844.3 L1105.0,846.0 L1099.2,847.5 L1093.6,849.1 L1088.1,850.7 L1082.9,852.2 L1077.8,853.9 L1073.1,855.6 L1068.6,857.3 L1064.6,859.3 L1060.9,861.3 L1057.6,863.6 L1054.7,866.0 L1052.3,868.6 L1050.3,871.5 L1048.8,874.5 L1047.7,877.9 L1047.0,881.4 L1046.7,885.2 L1046.8,889.3 L1047.3,893.6 L1048.1,898.2 L1049.1,902.9 L1050.5,907.9 L1052.0,913.1 L1053.7,918.4 L1055.4,923.8 L1057.3,929.4 L1059.1,935.1 L1061.0,940.8 L1062.7,946.5 L1064.3,952.3 L1065.7,957.9 L1066.9,963.5 L1067.8,969.0 L1068.4,974.3 L1068.7,979.4 L1068.6,984.3 L1068.1,989.0 L1067.3,993.4 L1066.0,997.4 L1064.3,1001.2 L1062.1,1004.6 L1059.5,1007.7 L1056.5,1010.5 L1053.1,1012.9 L1049.3,1014.9 L1045.1,1016.5 L1040.6,1017.9 L1035.8,1018.9 L1030.7,1019.6 L1025.3,1020.0 L1019.7,1020.1 L1014.0,1020.0 L1008.2,1019.7 L1002.2,1019.2 L996.3,1018.6 L990.3,1018.0 L984.4,1017.2 L978.6,1016.5 L972.9,1015.8 L967.4,1015.2 L962.1,1014.8 L956.9,1014.5 L952.1,1014.4 L947.5,1014.5 L943.2,1015.0 L939.3,1015.7 L935.6,1016.7 L932.3,1018.1 L929.3,1019.9 L926.6,1022.1 L924.3,1024.6 L922.2,1027.6 L920.4,1030.9 L918.9,1034.6 L917.6,1038.7 L916.5,1043.1 L915.7,1047.8 L915.0,1052.9 L914.4,1058.1 L913.9,1063.7 L913.4,1069.3 L913.0,1075.2 L912.5,1081.1 L912.0,1087.1 L911.5,1093.0 L910.8,1099.0 L910.0,1104.8 L909.0,1110.4 L907.8,1115.9 L906.4,1121.1 L904.7,1126.0 L902.8,1130.6 L900.7,1134.8 L898.3,1138.6 L895.6,1142.0 L892.6,1145.0 L889.4,1147.4 L885.9,1149.4 L882.1,1150.9 L878.1,1152.0 L873.9,1152.5 L869.4,1152.5 L864.8,1152.2 L860.0,1151.3 L855.0,1150.1 L850.0,1148.5 L844.8,1146.6 L839.6,1144.4 L834.3,1141.9 L829.0,1139.2 L823.7,1136.4 L818.4,1133.5 L813.2,1130.6 L808.1,1127.7 L803.1,1124.9 L798.2,1122.2 L793.4,1119.7 L788.7,1117.4 L784.3,1115.3 L779.9,1113.6 L775.8,1112.3 L771.8,1111.4 L768.0,1110.8 L764.3,1110.7 L760.8,1111.1 L757.5,1112.0 L754.3,1113.3 L751.2,1115.1 L748.3,1117.4 L745.4,1120.1 L742.7,1123.3 L740.0,1126.8 L737.4,1130.8 L734.8,1135.1 L732.2,1139.7 L729.6,1144.5 L727.0,1149.6 L724.4,1154.8 L721.8,1160.1 L719.0,1165.4 L716.2,1170.7 L713.4,1175.9 L710.4,1181.0 L707.3,1185.9 L704.2,1190.6 L700.9,1194.9 L697.5,1198.9 L694.1,1202.6 L690.5,1205.8 L686.8,1208.5 L683.1,1210.7 L679.2,1212.4 L675.3,1213.6 L671.3,1214.2 L667.3,1214.3 L663.2,1213.9 L659.1,1212.9 L655.0,1211.4 L650.8,1209.3 L646.7,1206.8 L642.6,1203.9 L638.5,1200.6 L634.4,1196.9 L630.4,1192.9 L626.5,1188.7 L622.6,1184.3 L618.8,1179.7 L615.0,1175.0 L611.3,1170.3 L607.7,1165.6 L604.1,1161.1 L600.6,1156.7 L597.1,1152.4 L593.7,1148.5 L590.3,1144.8 L587.0,1141.5 L583.6,1138.6 L580.3,1136.0 L577.0,1134.0 L573.7,1132.4 L570.3,1131.3 L566.9,1130.6 L563.4,1130.5 L559.9,1130.9 L556.4,1131.8 L552.7,1133.1 L549.0,1134.8 L545.1,1137.0 L541.2,1139.6 L537.2,1142.5 L533.1,1145.7 L528.9,1149.1 L524.6,1152.7 L520.2,1156.5 L515.7,1160.4 L511.2,1164.2 L506.6,1168.1 L502.0,1171.9 L497.3,1175.5 L492.6,1178.9 L487.9,1182.0 L483.2,1184.9 L478.5,1187.4 L473.9,1189.5 L469.4,1191.2 L464.9,1192.5 L460.5,1193.2 L456.3,1193.4 L452.2,1193.2 L448.2,1192.4 L444.4,1191.0 L440.8,1189.2 L437.3,1186.8 L434.1,1183.9 L431.0,1180.6 L428.1,1176.8 L425.3,1172.7 L422.8,1168.1 L420.4,1163.2 L418.2,1158.1 L416.1,1152.7 L414.2,1147.1 L412.4,1141.5 L410.7,1135.7 L409.0,1130.0 L407.5,1124.2 L405.9,1118.6 L404.3,1113.1 L402.8,1107.9 L401.1,1102.8 L399.4,1098.1 L397.7,1093.6 L395.7,1089.6 L393.7,1085.9 L391.4,1082.6 L389.0,1079.7 L386.4,1077.3 L383.5,1075.3 L380.5,1073.8 L377.1,1072.7 L373.6,1072.0 L369.8,1071.7 L365.7,1071.8 L361.4,1072.3 L356.8,1073.1 L352.1,1074.1 L347.1,1075.5 L341.9,1077.0 L336.6,1078.7 L331.2,1080.4 L325.6,1082.3 L319.9,1084.1 L314.2,1086.0 L308.5,1087.7 L302.7,1089.3 L297.1,1090.7 L291.5,1091.9 L286.0,1092.8 L280.7,1093.4 L275.6,1093.7 L270.7,1093.6 L266.0,1093.1 L261.6,1092.3 L257.6,1091.0 L253.8,1089.3 L250.4,1087.1 L247.3,1084.5 L244.5,1081.5 L242.1,1078.1 L240.1,1074.3 L238.5,1070.1 L237.1,1065.6 L236.1,1060.8 L235.4,1055.7 L235.0,1050.3 L234.9,1044.7 L235.0,1039.0 L235.3,1033.2 L235.8,1027.2 L236.4,1021.3 L237.0,1015.3 L237.8,1009.4 L238.5,1003.6 L239.2,997.9 L239.8,992.4 L240.2,987.1 L240.5,981.9 L240.6,977.1 L240.5,972.5 L240.0,968.2 L239.3,964.3 L238.3,960.6 L236.9,957.3 L235.1,954.3 L232.9,951.6 L230.4,949.3 L227.4,947.2 L224.1,945.4 L220.4,943.9 L216.3,942.6 L211.9,941.5 L207.2,940.7 L202.1,940.0 L196.9,939.4 L191.3,938.9 L185.7,938.4 L179.8,938.0 L173.9,937.5 L167.9,937.0 L162.0,936.5 L156.0,935.8 L150.2,935.0 L144.6,934.0 L139.1,932.8 L133.9,931.4 L129.0,929.7 L124.4,927.8 L120.2,925.7 L116.4,923.3 L113.0,920.6 L110.0,917.6 L107.6,914.4 L105.6,910.9 L104.1,907.1 L103.0,903.1 L102.5,898.9 L102.5,894.4 L102.8,889.8 L103.7,885.0 L104.9,880.0 L106.5,875.0 L108.4,869.8 L110.6,864.6 L113.1,859.3 L115.8,854.0 L118.6,848.7 L121.5,843.4 L124.4,838.2 L127.3,833.1 L130.1,828.1 L132.8,823.2 L135.3,818.4 L137.6,813.7 L139.7,809.3 L141.4,804.9 L142.7,800.8 L143.6,796.8 L144.2,793.0 L144.3,789.3 L143.9,785.8 L143.0,782.5 L141.7,779.3 L139.9,776.2 L137.6,773.3 L134.9,770.4 L131.7,767.7 L128.2,765.0 L124.2,762.4 L119.9,759.8 L115.3,757.2 L110.5,754.6 L105.4,752.0 L100.2,749.4 L94.9,746.8 L89.6,744.0 L84.3,741.2 L79.1,738.4 L74.0,735.4 L69.1,732.3 L64.4,729.2 L60.1,725.9 L56.1,722.5 L52.4,719.1 L49.2,715.5 L46.5,711.8 L44.3,708.1 L42.6,704.2 L41.4,700.3 L40.8,696.3 L40.7,692.3 L41.1,688.2 L42.1,684.1 L43.6,680.0 L45.7,675.8 L48.2,671.7 L51.1,667.6 L54.4,663.5 L58.1,659.4 L62.1,655.4 L66.3,651.5 L70.7,647.6 L75.3,643.8 L80.0,640.0 L84.7,636.3 L89.4,632.7 L93.9,629.1 L98.3,625.6 L102.6,622.1 L106.5,618.7 L110.2,615.3 L113.5,612.0 L116.4,608.6 L119.0,605.3 L121.0,602.0 L122.6,598.7 L123.7,595.3 L124.4,591.9 L124.5,588.4 L124.1,584.9 L123.2,581.4 L121.9,577.7 L120.2,574.0 L118.0,570.1 L115.4,566.2 L112.5,562.2 L109.3,558.1 L105.9,553.9 L102.3,549.6 L98.5,545.2 L94.6,540.7 L90.8,536.2 L86.9,531.6 L83.1,527.0 L79.5,522.3 L76.1,517.6 L73.0,512.9 L70.1,508.2 L67.6,503.5 L65.5,498.9 L63.8,494.4 L62.5,489.9 L61.8,485.5 L61.6,481.3 L61.8,477.2 L62.6,473.2 L64.0,469.4 L65.8,465.8 L68.2,462.3 L71.1,459.1 L74.4,456.0 L78.2,453.1 L82.3,450.3 L86.9,447.8 L91.8,445.4 L96.9,443.2 L102.3,441.1 L107.9,439.2 L113.5,437.4 L119.3,435.7 L125.0,434.0 L130.8,432.5 L136.4,430.9 L141.9,429.3 L147.1,427.8 L152.2,426.1 L156.9,424.4 L161.4,422.7 L165.4,420.7 L169.1,418.7 L172.4,416.4 L175.3,414.0 L177.7,411.4 L179.7,408.5 L181.2,405.5 L182.3,402.1 L183.0,398.6 L183.3,394.8 L183.2,390.7 L182.7,386.4 L181.9,381.8 L180.9,377.1 L179.5,372.1 L178.0,366.9 L176.3,361.6 L174.6,356.2 L172.7,350.6 L170.9,344.9 L169.0,339.2 L167.3,333.5 L165.7,327.7 L164.3,322.1 L163.1,316.5 L162.2,311.0 L161.6,305.7 L161.3,300.6 L161.4,295.7 L161.9,291.0 L162.7,286.6 L164.0,282.6 L165.7,278.8 L167.9,275.4 L170.5,272.3 L173.5,269.5 L176.9,267.1 L180.7,265.1 L184.9,263.5 L189.4,262.1 L194.2,261.1 L199.3,260.4 L204.7,260.0 L210.3,259.9 L216.0,260.0 L221.8,260.3 L227.8,260.8 L233.7,261.4 L239.7,262.0 L245.6,262.8 L251.4,263.5 L257.1,264.2 L262.6,264.8 L267.9,265.2 L273.1,265.5 L277.9,265.6 L282.5,265.5 L286.8,265.0 L290.7,264.3 L294.4,263.3 L297.7,261.9 L300.7,260.1 L303.4,257.9 L305.7,255.4 L307.8,252.4 L309.6,249.1 L311.1,245.4 L312.4,241.3 L313.5,236.9 L314.3,232.2 L315.0,227.1 L315.6,221.9 L316.1,216.3 L316.6,210.7 L317.0,204.8 L317.5,198.9 L318.0,192.9 L318.5,187.0 L319.2,181.0 L320.0,175.2 L321.0,169.6 L322.2,164.1 L323.6,158.9 L325.3,154.0 L327.2,149.4 L329.3,145.2 L331.7,141.4 L334.4,138.0 L337.4,135.0 L340.6,132.6 L344.1,130.6 L347.9,129.1 L351.9,128.0 L356.1,127.5 L360.6,127.5 L365.2,127.8 L370.0,128.7 L375.0,129.9 L380.0,131.5 L385.2,133.4 L390.4,135.6 L395.7,138.1 L401.0,140.8 L406.3,143.6 L411.6,146.5 L416.8,149.4 L421.9,152.3 L426.9,155.1 L431.8,157.8 L436.6,160.3 L441.3,162.6 L445.7,164.7 L450.1,166.4 L454.2,167.7 L458.2,168.6 L462.0,169.2 L465.7,169.3 L469.2,168.9 L472.5,168.0 L475.7,166.7 L478.8,164.9 L481.7,162.6 L484.6,159.9 L487.3,156.7 L490.0,153.2 L492.6,149.2 L495.2,144.9 L497.8,140.3 L500.4,135.5 L503.0,130.4 L505.6,125.2 L508.2,119.9 L511.0,114.6 L513.8,109.3 L516.6,104.1 L519.6,99.0 L522.7,94.1 L525.8,89.4 L529.1,85.1 L532.5,81.1 L535.9,77.4 L539.5,74.2 L543.2,71.5 L546.9,69.3 L550.8,67.6 L554.7,66.4 L558.7,65.8 L562.7,65.7 L566.8,66.1 L570.9,67.1 L575.0,68.6 L579.2,70.7 L583.3,73.2 L587.4,76.1 L591.5,79.4 L595.6,83.1 L599.6,87.1 L603.5,91.3 L607.4,95.7 L611.2,100.3 L615.0,105.0 L618.7,109.7 L622.3,114.4 L625.9,118.9 L629.4,123.3 L632.9,127.6 L636.3,131.5 L639.7,135.2 L643.0,138.5 L646.4,141.4 L649.7,144.0 L653.0,146.0 L656.3,147.6 L659.7,148.7 L663.1,149.4 L666.6,149.5 L670.1,149.1 L673.6,148.2 L677.3,146.9 L681.0,145.2 L684.9,143.0 L688.8,140.4 L692.8,137.5 L696.9,134.3 L701.1,130.9 L705.4,127.3 L709.8,123.5 L714.3,119.6 L718.8,115.8 L723.4,111.9 L728.0,108.1 L732.7,104.5 L737.4,101.1 L742.1,98.0 L746.8,95.1 L751.5,92.6 L756.1,90.5 L760.6,88.8 L765.1,87.5 L769.5,86.8 L773.7,86.6 L777.8,86.8 L781.8,87.6 L785.6,89.0 L789.2,90.8 L792.7,93.2 L795.9,96.1 L799.0,99.4 L801.9,103.2 L804.7,107.3 L807.2,111.9 L809.6,116.8 L811.8,121.9 L813.9,127.3 L815.8,132.9 L817.6,138.5 L819.3,144.3 L821.0,150.0 L822.5,155.8 L824.1,161.4 L825.7,166.9 L827.2,172.1 L828.9,177.2 L830.6,181.9 L832.3,186.4 L834.3,190.4 L836.3,194.1 L838.6,197.4 L841.0,200.3 L843.6,202.7 L846.5,204.7 L849.5,206.2 L852.9,207.3 L856.4,208.0 L860.2,208.3 L864.3,208.2 L868.6,207.7 L873.2,206.9 L877.9,205.9 L882.9,204.5 L888.1,203.0 L893.4,201.3 L898.8,199.6 L904.4,197.7 L910.1,195.9 L915.8,194.0 L921.5,192.3 L927.3,190.7 L932.9,189.3 L938.5,188.1 L944.0,187.2 L949.3,186.6 L954.4,186.3 L959.3,186.4 L964.0,186.9 L968.4,187.7 L972.4,189.0 L976.2,190.7 L979.6,192.9 L982.7,195.5 L985.5,198.5 L987.9,201.9 L989.9,205.7 L991.5,209.9 L992.9,214.4 L993.9,219.2 L994.6,224.3 L995.0,229.7 L995.1,235.3 L995.0,241.0 L994.7,246.8 L994.2,252.8 L993.6,258.7 L993.0,264.7 L992.2,270.6 L991.5,276.4 L990.8,282.1 L990.2,287.6 L989.8,292.9 L989.5,298.1 L989.4,302.9 L989.5,307.5 L990.0,311.8 L990.7,315.7 L991.7,319.4 L993.1,322.7 L994.9,325.7 L997.1,328.4 L999.6,330.7 L1002.6,332.8 L1005.9,334.6 L1009.6,336.1 L1013.7,337.4 L1018.1,338.5 L1022.8,339.3 L1027.9,340.0 L1033.1,340.6 L1038.7,341.1 L1044.3,341.6 L1050.2,342.0 L1056.1,342.5 L1062.1,343.0 L1068.0,343.5 L1074.0,344.2 L1079.8,345.0 L1085.4,346.0 L1090.9,347.2 L1096.1,348.6 L1101.0,350.3 L1105.6,352.2 L1109.8,354.3 L1113.6,356.7 L1117.0,359.4 L1120.0,362.4 L1122.4,365.6 L1124.4,369.1 L1125.9,372.9 L1127.0,376.9 L1127.5,381.1 L1127.5,385.6 L1127.2,390.2 L1126.3,395.0 L1125.1,400.0 L1123.5,405.0 L1121.6,410.2 L1119.4,415.4 L1116.9,420.7 L1114.2,426.0 L1111.4,431.3 L1108.5,436.6 L1105.6,441.8 L1102.7,446.9 L1099.9,451.9 L1097.2,456.8 L1094.7,461.6 L1092.4,466.3 L1090.3,470.7 L1088.6,475.1 L1087.3,479.2 L1086.4,483.2 L1085.8,487.0 L1085.7,490.7 L1086.1,494.2 L1087.0,497.5 L1088.3,500.7 L1090.1,503.8 L1092.4,506.7 L1095.1,509.6 L1098.3,512.3 L1101.8,515.0 L1105.8,517.6 L1110.1,520.2 L1114.7,522.8 L1119.5,525.4 L1124.6,528.0 L1129.8,530.6 L1135.1,533.2 L1140.4,536.0 L1145.7,538.8 L1150.9,541.6 L1156.0,544.6 L1160.9,547.7 L1165.6,550.8 L1169.9,554.1 L1173.9,557.5 L1177.6,560.9 L1180.8,564.5 L1183.5,568.2 L1185.7,571.9 L1187.4,575.8 L1188.6,579.7 L1189.2,583.7 L1189.3,587.7 L1188.9,591.8 L1187.9,595.9 L1186.4,600.0 L1184.3,604.2 L1181.8,608.3 L1178.9,612.4 L1175.6,616.5 L1171.9,620.6 L1167.9,624.6 L1163.7,628.5 L1159.3,632.4 L1154.7,636.2 L1150.0,640.0Z"/></g>
<rect x="535" y="250" width="155" height="170" fill="#5c5c5c"/>
<rect x="370" y="415" width="170" height="140" fill="#6a6a6a"/>
<rect x="690" y="415" width="175" height="140" fill="#444"/>
<rect x="535" y="415" width="155" height="140" fill="#555"/>
<path d="M555 710 Q580 600 690 555 L690 710 Z" fill="#333"/>
<path d="M540 430 Q560 500 600 560 Q660 560 700 500 L720 430" fill="none" stroke="#fff" stroke-width="14"/>
<path d="M620 420 L650 520 M660 410 L680 500 M700 440 L690 510" stroke="#fff" stroke-width="12"/>
<text x="615" y="820" font-family="Liberation Serif" font-style="italic" font-size="60" fill="#444" text-anchor="middle">ACUI</text>
<text x="630" y="990" font-family="Liberation Serif" font-style="italic" font-size="70" fill="#444" text-anchor="middle" textLength="560" lengthAdjust="spacingAndGlyphs">JUEGO DE INDIA</text>
</svg>
<div class="tx" id="t1" style="left:180.99px;top:37.24px;font-size:53.33px;font-weight:bold;font-style:normal;color:#231815;transform:scale(1.0112,0.9946);-webkit-text-stroke:0.7px #231815;">Situación en el Partido de 9 de Julio:</div>
<div class="tx" id="t2a" style="left:178.20px;top:87.83px;font-size:93.38px;font-weight:bold;font-style:italic;color:#028b8d;transform:scale(0.9149,0.9478);-webkit-text-stroke:3.2px #028b8d;letter-spacing:6px;">PANDEMIA</div>
<div class="tx" id="t2b" style="left:698.96px;top:87.83px;font-size:93.38px;font-weight:bold;font-style:italic;color:#028b8d;transform:scale(0.8794,0.9478);-webkit-text-stroke:3.2px #028b8d;letter-spacing:6px;">COVID</div>
<div class="tx" id="t2d" style="left:1035.80px;top:89.14px;font-size:89.72px;font-weight:bold;font-style:italic;color:#028b8d;transform:scale(0.7682,0.9800);-webkit-text-stroke:3.2px #028b8d;letter-spacing:6px;">19</div>
<div class="tx" id="l1" style="left:354.00px;top:226.96px;font-size:34.79px;font-weight:normal;font-style:normal;color:#fff;transform:scale(0.8956,0.9880);-webkit-text-stroke:0.75px #fff;letter-spacing:1px;">TOTAL CASOS POSITIVOS</div>
<div class="tx" id="l2" style="left:486.10px;top:319.45px;font-size:29.3px;font-weight:normal;font-style:normal;color:#fff;transform:scale(0.9036,0.9905);-webkit-text-stroke:0.75px #fff;letter-spacing:1px;">CASOS ACTUALES</div>
<div class="tx" id="l3" style="left:545.59px;top:396.26px;font-size:29.15px;font-weight:normal;font-style:normal;color:#fff;transform:scale(0.9543,0.9857);-webkit-text-stroke:0.75px #fff;letter-spacing:1px;">INTERNADOS</div>
<div class="tx" id="l4" style="left:502.00px;top:472.66px;font-size:29.15px;font-weight:normal;font-style:normal;color:#fff;transform:scale(0.9791,0.9857);-webkit-text-stroke:0.75px #fff;letter-spacing:1px;">AMBULATORIOS</div>
<div class="tx" id="l5" style="left:522.99px;top:556.25px;font-size:29.3px;font-weight:normal;font-style:normal;color:#fff;transform:scale(0.9064,0.9905);-webkit-text-stroke:0.75px #fff;letter-spacing:1px;">RECUPERADOS</div>
<div class="tx" id="l6" style="left:560.75px;top:640.25px;font-size:29.3px;font-weight:normal;font-style:normal;color:#fff;transform:scale(0.9246,0.9905);-webkit-text-stroke:0.75px #fff;letter-spacing:1px;">FALLECIDOS</div>
<div class="tx" id="l7" style="left:399.12px;top:729.52px;font-size:34.37px;font-weight:normal;font-style:normal;color:#fff;transform:scale(0.8766,0.9760);-webkit-text-stroke:0.75px #fff;letter-spacing:1px;">CASOS SOSPECHOSOS</div>
<div class="tx" id="l8" style="left:544.60px;top:819.05px;font-size:29.3px;font-weight:normal;font-style:normal;color:#fff;transform:scale(0.9520,0.9905);-webkit-text-stroke:0.75px #fff;letter-spacing:1px;">INTERNADOS</div>
<div class="tx" id="l9" style="left:501.60px;top:896.05px;font-size:29.3px;font-weight:normal;font-style:normal;color:#fff;transform:scale(0.9746,0.9905);-webkit-text-stroke:0.75px #fff;letter-spacing:1px;">AMBULATORIOS</div>
<div class="tx" id="l10" style="left:591.80px;top:982.82px;font-size:29.44px;font-weight:normal;font-style:normal;color:#fff;transform:scale(0.9327,0.9952);-webkit-text-stroke:0.75px #fff;letter-spacing:1px;">AISLADOS</div>
<div class="tx" id="l11" style="left:422.80px;top:1067.40px;font-size:29.58px;font-weight:normal;font-style:normal;color:#fff;transform:scale(0.8997,1.0000);-webkit-text-stroke:0.75px #fff;letter-spacing:1px;">CASOS DESCARTADOS</div>
<div class="tx" id="n1" style="left:788.62px;top:207.64px;font-size:71.27px;font-weight:bold;font-style:normal;color:#fff;transform:scale(0.9947,1.0327);">6637</div>
<div class="tx" id="n2" style="left:801.56px;top:303.41px;font-size:60.42px;font-weight:bold;font-style:normal;color:#fff;transform:scale(1.0222,1.0214);">86</div>
<div class="tx" id="n3" style="left:815.44px;top:382.02px;font-size:59.71px;font-weight:bold;font-style:normal;color:#fff;transform:scale(0.9300,1.0195);">5</div>
<div class="tx" id="n4" style="left:799.66px;top:457.56px;font-size:59.3px;font-weight:bold;font-style:normal;color:#fff;transform:scale(0.9210,1.0268);">81</div>
<div class="tx" id="n5" style="left:764.05px;top:540.69px;font-size:59.72px;font-weight:bold;font-style:normal;color:#fff;transform:scale(0.9767,1.0341);">6323</div>
<div class="tx" id="n6" style="left:780.57px;top:624.89px;font-size:59.72px;font-weight:bold;font-style:normal;color:#fff;transform:scale(1.0146,1.0341);">228</div>
<div class="tx" id="n7" style="left:847.79px;top:709.82px;font-size:72.57px;font-weight:bold;font-style:normal;color:#fff;transform:scale(0.9528,1.0160);">5</div>
<div class="tx" id="n8" style="left:813.72px;top:803.07px;font-size:62.0px;font-weight:bold;font-style:normal;color:#fff;transform:scale(0.9419,1.0333);">5</div>
<div class="tx" id="n9" style="left:811.82px;top:880.29px;font-size:60.56px;font-weight:bold;font-style:normal;color:#fff;transform:scale(1.0379,1.0238);">0</div>
<div class="tx" id="n10" style="left:794.97px;top:967.29px;font-size:60.56px;font-weight:bold;font-style:normal;color:#fff;transform:scale(1.0159,1.0238);">82</div>
<div class="tx" id="n11" style="left:766.06px;top:1053.31px;font-size:60.42px;font-weight:bold;font-style:normal;color:#fff;transform:scale(0.9723,1.0214);">6028</div>
<div class="tx" id="d1" style="left:1021.16px;top:471.57px;font-size:40.21px;font-weight:bold;font-style:normal;color:#231815;transform:scale(1.0405,1.0054);">22</div>
<div class="tx" id="d2" style="left:1087.55px;top:470.34px;font-size:39.65px;font-weight:bold;font-style:normal;color:#231815;transform:scale(1.0744,1.0426);">08</div>
<div class="tx" id="d3" style="left:1157.13px;top:470.34px;font-size:39.65px;font-weight:bold;font-style:normal;color:#231815;transform:scale(0.9709,1.0426);">2021</div>
<div class="tx" id="h1" style="left:109.98px;top:828.15px;font-size:44.34px;font-weight:bold;font-style:italic;color:#fff;transform:scale(1.0087,0.9038);-webkit-text-stroke:0.8px #fff;">Cuidémonos</div>
<div class="tx" id="h2" style="left:111.60px;top:867.17px;font-size:51.89px;font-weight:bold;font-style:italic;color:#fff;transform:scale(1.0049,0.9821);-webkit-text-stroke:0.8px #fff;">entretodos</div>
<div class="tx" id="c1" style="left:226.30px;top:1163.71px;font-size:78.03px;font-weight:bold;font-style:italic;color:#59595b;transform:scale(0.7679,0.9719);-webkit-text-stroke:3px #59595b;">C</div>
<div class="tx" id="c2" style="left:268.40px;top:1180.29px;font-size:59.86px;font-weight:bold;font-style:italic;color:#59595b;transform:scale(0.9124,0.9444);-webkit-text-stroke:3px #59595b;letter-spacing:3px;">LYSA</div>
<div class="tx" id="c3" style="left:221.26px;top:1237.70px;font-size:17.39px;font-weight:normal;font-style:italic;color:#8a8a8a;transform:scale(1.0402,1.0000);-webkit-text-stroke:0.3px #8a8a8a;">Emergencias Médicas</div>
<div class="tx" id="m1" style="left:637.92px;top:1220.58px;font-size:21.16px;font-weight:normal;font-style:normal;color:#4f4f51;transform:scale(1.0401,0.9733);">Nueve de Julio</div>
<div class="tx" id="m2" style="left:665.52px;top:1244.55px;font-size:11.83px;font-weight:normal;font-style:normal;color:#4f4f51;transform:scale(0.9833,1.0500);">MUNICIPALIDAD</div>
</body></html>
